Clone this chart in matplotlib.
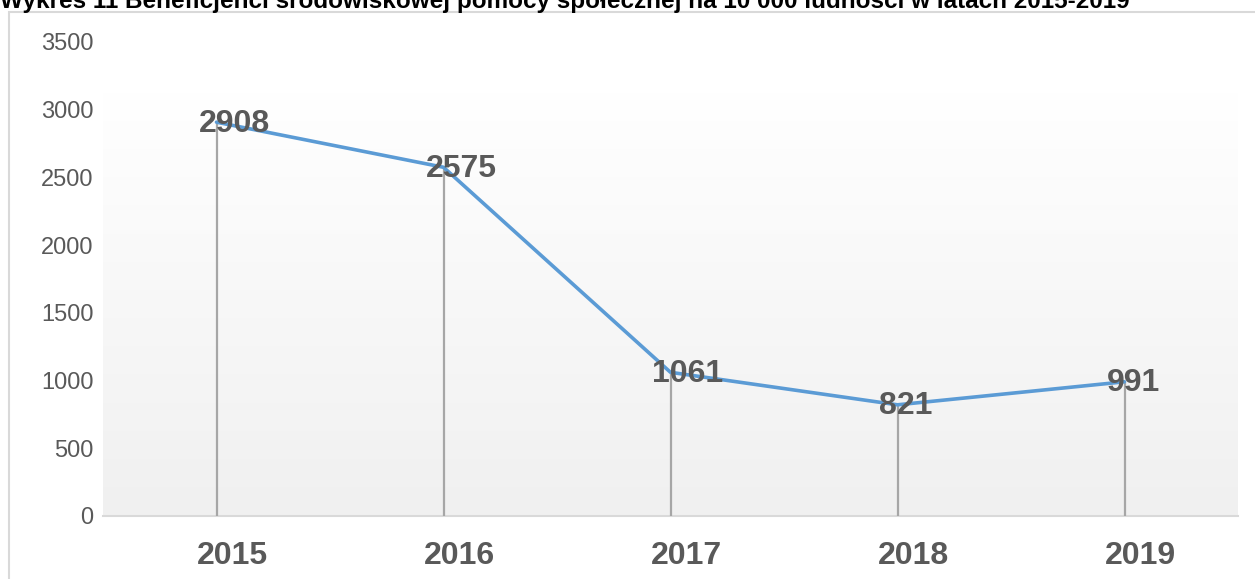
import numpy as np
import matplotlib
matplotlib.use("Agg")
import matplotlib.pyplot as plt
from matplotlib.patches import Rectangle
from matplotlib.colors import LinearSegmentedColormap
from matplotlib.transforms import ScaledTranslation

plt.rcParams['font.family'] = ['Liberation Sans', 'DejaVu Sans']

years = ["2015", "2016", "2017", "2018", "2019"]
values = [2908, 2575, 1061, 821, 991]
yticks = [0, 500, 1000, 1500, 2000, 2500, 3000, 3500]
title = "Wykres 11 Beneficjenci środowiskowej pomocy społecznej na 10 000 ludności w latach 2015-2019"

W, H = 1255, 579
fig = plt.figure(figsize=(W / 100, H / 100), dpi=100)
fig.patch.set_facecolor("white")

ax = fig.add_axes([103 / W, 1 - 516 / H, (1238 - 103) / W, (516 - 42) / H])
x = np.arange(len(years))
ax.set_xlim(-0.5, len(years) - 0.5)
ax.set_ylim(0, 3500)

# gradient background
grad_top = 3124
cmap = LinearSegmentedColormap.from_list("g", ["#f0f0f0", "#ffffff"])
g = np.linspace(0, 1, 256).reshape(-1, 1)
ax.imshow(g, cmap=cmap, origin="lower", aspect="auto",
          extent=(-0.5, len(years) - 0.5, 0, grad_top), zorder=0)

for s in ["top", "right", "left"]:
    ax.spines[s].set_visible(False)
ax.spines["bottom"].set_color("#d9d9d9")
ax.spines["bottom"].set_linewidth(1.5)
ax.spines["bottom"].set_zorder(1)

ax.vlines(x, 0, values, color="#a6a6a6", lw=1.6, zorder=2)
ax.plot(x, values, color="#5b9bd5", lw=2.6, zorder=3, solid_capstyle="round")

for xi, v in zip(x, values):
    ax.annotate(str(v), (xi, v), xytext=(-13, -1), textcoords="offset points",
                ha="left", va="center", fontsize=23, fontweight="bold",
                color="#595959", zorder=4)

ax.set_xticks(x)
ax.set_xticklabels(years, fontsize=23, fontweight="bold", color="#595959")
ax.set_yticks(yticks)
ax.set_yticklabels([str(t) for t in yticks], fontsize=17, color="#595959")
ax.tick_params(axis="both", length=0)
ax.tick_params(axis="x", pad=18)
ax.tick_params(axis="y", pad=7)

shift = ScaledTranslation(16 / 100, 0, fig.dpi_scale_trans)
for lbl in ax.get_xticklabels():
    lbl.set_transform(lbl.get_transform() + shift)

# outer chart frame
fig.patches.append(Rectangle((9 / W, -0.1), 2, (H - 12) / H + 0.1,
                             transform=fig.transFigure, fill=False,
                             edgecolor="#d9d9d9", lw=1.5, clip_on=False))

fig.text(0, 1 - 8 / H, title, ha="left", va="baseline", fontsize=17.5,
         fontweight="bold", color="black")

fig.savefig("out.png", dpi=100)
